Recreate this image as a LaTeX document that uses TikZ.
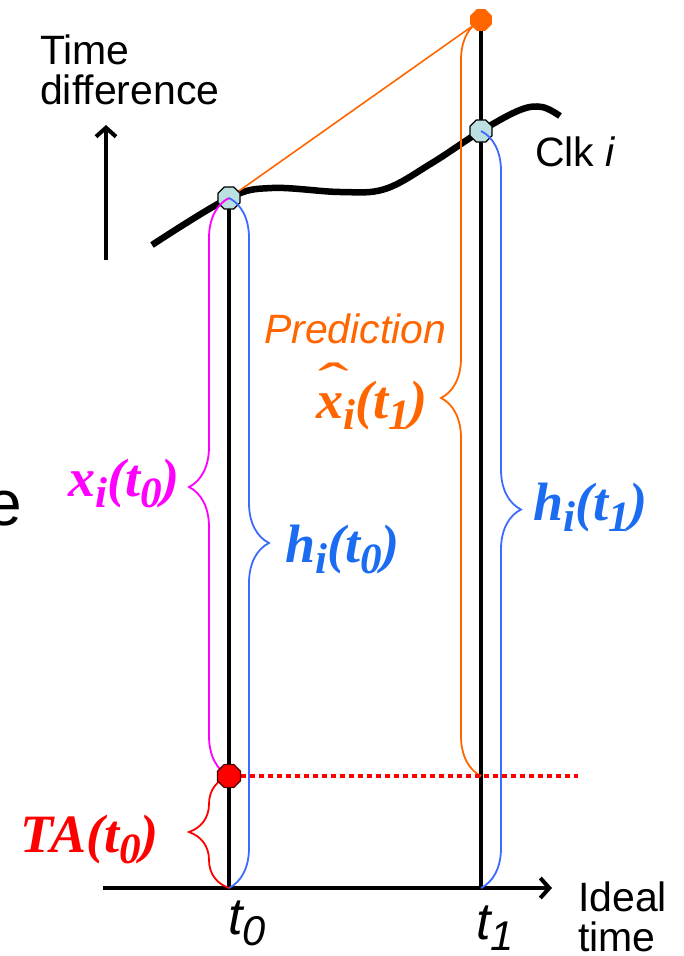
\documentclass[tikz,border=0pt]{standalone}
\usepackage{fontspec}
\setmainfont{Liberation Sans}
\newfontfamily\tnr{Liberation Serif}
\usepackage{xcolor}
\definecolor{CKorange}{HTML}{FF6600}
\definecolor{CKmagenta}{HTML}{FF00FF}
\definecolor{CKblue}{HTML}{3D6BFF}
\definecolor{CKblueT}{HTML}{1B6CF0}
\definecolor{CKred}{HTML}{FF0000}
\definecolor{CKcyan}{HTML}{BCDFE0}
\usepackage{tikz}
\usetikzlibrary{arrows.meta,shapes.geometric,decorations.pathreplacing}
\newcommand{\lowsub}[1]{\raisebox{-0.22em}{\scalebox{0.8}{#1}}}
\newcommand{\vlab}[3]{{\tnr\bfseries\itshape #1\lowsub{#2}(t\lowsub{#3})}}
\newcommand{\hatx}{\rlap{\raisebox{0.33em}{\hspace{0.04em}\scalebox{1.7}[1]{\mdseries\upshape\char"02C6}}}x}

\begin{document}
\begin{tikzpicture}[x=1pt, y=-1pt,
  lbl/.style={font=\fontsize{41}{40}\selectfont, inner sep=0pt, align=left},
  mlab/.style={font=\fontsize{54}{56}\selectfont, inner sep=0pt},
  tlab/.style={font=\fontsize{52}{52}\selectfont\itshape, inner sep=0pt},
  sample/.style={regular polygon, regular polygon sides=8, minimum size=24pt,
    inner sep=0pt, draw=black, line width=1.2pt, fill=CKcyan},
  axis/.style={line width=4pt, -{Straight Barb[length=9pt,width=20pt]}},
  tick/.style={line width=3.2pt},
  clkline/.style={line width=6.5pt},
  brc/.style={decorate, decoration={brace, amplitude=40pt}, line width=1.8pt}
]
\useasboundingbox (0,0) rectangle (683,956);

% axes
\coordinate (orig) at (103,888);
\coordinate (xend) at (552,888);
\coordinate (yfoot) at (106,260);
\coordinate (ytip) at (106,125);
\draw[axis] (orig) -- (xend);
\draw[axis] (yfoot) -- (ytip);

\coordinate (t0base) at (229,888);
\coordinate (t1base) at (481,888);
\coordinate (t1ta) at (481,776);
\coordinate (tafar) at (578,776);

% clock curve
\draw[clkline] plot[smooth, tension=0.6] coordinates {(152,245) (229,198) (272,188)
  (340,192) (385,189) (432,163) (481,131) (520,110) (542,107) (560,116)};

\draw[tick] (t0base) -- (229,198);
\draw[tick] (t1base) -- (481,20);
\draw[CKorange, line width=1.6pt] (229,198) -- (481,20);

\node[sample] (t0clk) at (229,198) {};
\node[sample] (t1clk) at (481,131) {};

% braces
\draw[brc, CKmagenta] (229,776) -- (t0clk.center);
\draw[brc, CKblue] (t0clk.center) -- (t0base);
\draw[brc, CKorange] (t1ta) -- (481,20);
\draw[brc, CKblue] (t1clk.center) -- (t1base);
\draw[brc, CKred] (t0base) -- (229,776);

\node[sample, fill=CKorange, draw=CKorange, minimum size=22pt] (t1pred) at (481,20) {};
\node[sample, fill=CKred, draw=black!70!red, minimum size=25pt] (ta0) at (229,776) {};
\draw[CKred, line width=3.5pt, dash pattern=on 5pt off 4pt] (ta0.east) -- (tafar);

% labels
\node[lbl, anchor=north west] (ylab) at (40,35) {Time\\difference};
\node[lbl, anchor=base west] (clkname) at (535,166) {Clk \textit{i}};
\node[lbl, anchor=north west] (xlab) at (578,882) {Ideal\\time};
\node[lbl, anchor=base west, font=\fontsize{64}{64}\selectfont] (cut) at (-14,525) {e};
\node[lbl, anchor=base west, CKorange, font=\fontsize{41}{40}\selectfont\itshape] (predword) at (264,343) {Prediction};
\node[mlab, anchor=base west, CKorange] (predlab) at (316,418) {\vlab{\hatx}{i}{1}};
\node[mlab, anchor=base west, CKmagenta] (xlab0) at (68,496) {\vlab{x}{i}{0}};
\node[mlab, anchor=base west, CKblueT] (hlab0) at (285,562) {\vlab{h}{i}{0}};
\node[mlab, anchor=base west, CKblueT] (hlab1) at (533,520) {\vlab{h}{i}{1}};
\node[mlab, anchor=base west, CKred] (talab) at (20,852) {{\tnr\bfseries\itshape TA(t\lowsub{0})}};
\node[tlab, anchor=base west] (tick0) at (228,934) {t\lowsub{0}};
\node[tlab, anchor=base west] (tick1) at (476,939) {t\lowsub{1}};
\end{tikzpicture}
\end{document}
